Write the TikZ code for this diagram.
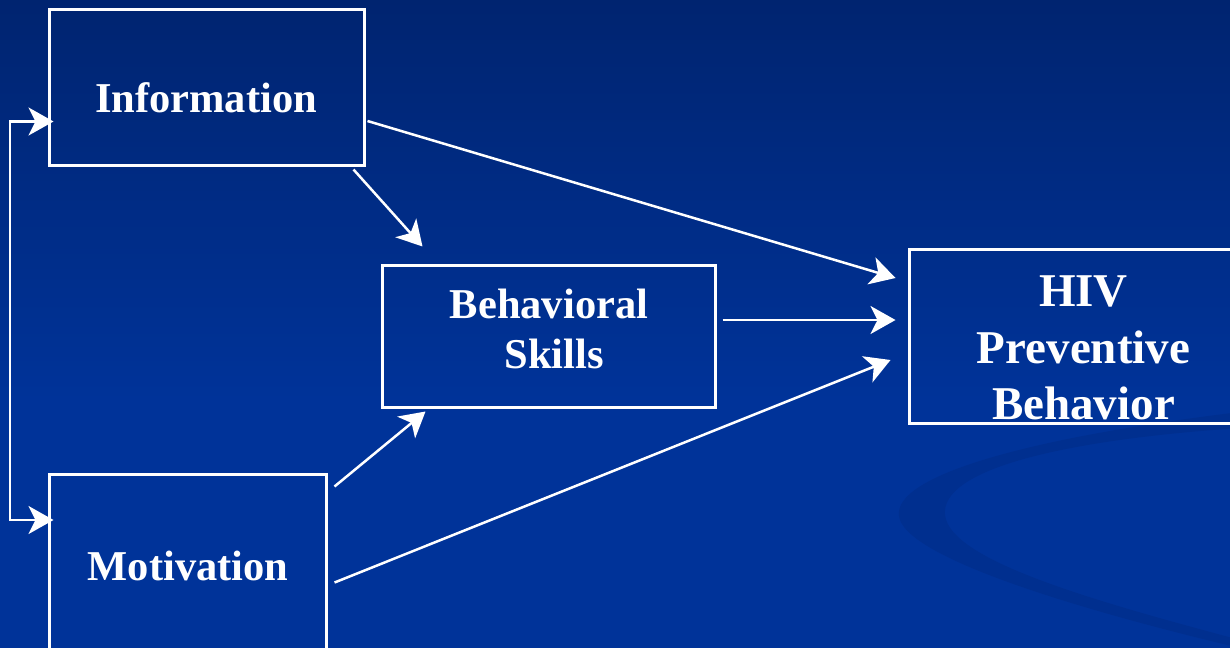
\documentclass[tikz,border=0pt]{standalone}
\usepackage{fontspec}
\setmainfont{Liberation Serif}
\usetikzlibrary{arrows.meta}

\definecolor{slidetop}{RGB}{0,36,112}
\definecolor{slideblue}{RGB}{0,51,153}
\definecolor{swoosh}{RGB}{0,47,143}

\begin{document}
\begin{tikzpicture}
  [x=1pt,y=-1pt,>={Stealth[length=25pt,width=28pt,inset=7pt]},
   box/.style={draw=white,line width=3pt,inner sep=0pt},
   txt/.style={text=white,align=center,inner sep=0pt,
               font=\fontsize{42.5}{50}\selectfont\bfseries},
   link/.style={draw=white,line width=2.5pt,->}]
  % slide background
  \useasboundingbox (0,0) rectangle (1230,648);
  \clip (0,0) rectangle (1230,648);
  \fill[slideblue] (0,0) rectangle (1230,648);
  \shade[top color=slidetop,bottom color=slideblue] (0,0) rectangle (1230,400);
  \fill[swoosh] (1240,412) .. controls (1010,440) and (885,480) .. (900,520)
    .. controls (915,560) and (1080,610) .. (1240,648) -- (1240,640)
    .. controls (1090,600) and (950,560) .. (945,515)
    .. controls (940,470) and (1060,440) .. (1240,428) -- cycle;

  % boxes
  \node[box,minimum width=315pt,minimum height=156pt] (info) at (207,87.5) {};
  \node[box,minimum width=333pt,minimum height=142pt] (skills) at (549,336.5) {};
  \node[box,minimum width=340pt,minimum height=174pt] (hiv) at (1079.5,336.5) {};
  \node[box,minimum width=277pt,minimum height=205pt] (motiv) at (188,577) {};

  % labels
  \node[txt] (infotxt) at (206,97.5) {Information};
  \node[txt] (skillstxt) at (549,328.5) {Behavioral\\~Skills};
  \node[txt,font=\fontsize{47}{56.5}\selectfont\bfseries] (hivtxt) at (1083.5,348) {HIV\\Preventive\\Behavior};
  \node[txt] (motivtxt) at (188,566) {Motivation};

  % paths
  \draw[link] ([shift={(1.5,33.5)}]info.east) -- ([shift={(-12.5,-58.5)}]hiv.west);
  \draw[link] ([shift={(-12.5,2.5)}]info.south east) -- ([shift={(41.5,-17.5)}]skills.north west);
  \draw[link] ([shift={(5.5,-16.5)}]skills.east) -- ([shift={(-12.5,-16.5)}]hiv.west);
  \draw[link] ([shift={(6.5,13.5)}]motiv.north east) -- ([shift={(44.5,2.5)}]skills.south west);
  \draw[link] ([shift={(6.5,109.5)}]motiv.north east) -- ([shift={(-17.5,23.5)}]hiv.west);
  \draw[link,<->] ([shift={(5.5,34)}]info.west) -- ++(-43.5,0) |- ([shift={(5.5,-57)}]motiv.west);

\end{tikzpicture}
\end{document}
